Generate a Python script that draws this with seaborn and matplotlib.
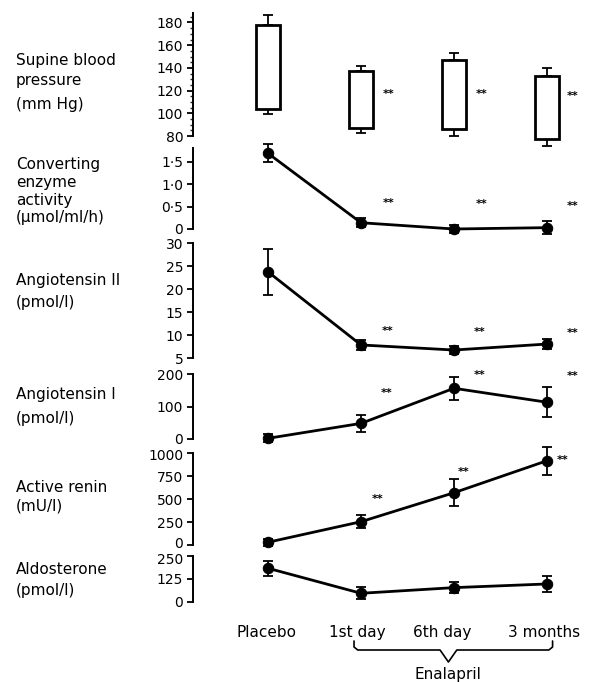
import numpy as np
import pandas as pd
import matplotlib
matplotlib.use("Agg")
import matplotlib.pyplot as plt
import seaborn as sns
from matplotlib.ticker import MultipleLocator, FixedLocator
from matplotlib.transforms import blended_transform_factory, ScaledTranslation

# ---------------- data ----------------
categories = ['Placebo', '1st day', '6th day', '3 months']

bp_systolic = [178, 137, 147, 133]
bp_systolic_err = [9, 5, 6, 7]
bp_diastolic = [104, 87, 86, 77]
bp_diastolic_err = [5, 4, 6, 5.5]

cea = [1.69, 0.14, 0.0, 0.03]
cea_err = [0.20, 0.10, 0.09, 0.15]

ang2 = [23.8, 7.9, 6.8, 8.1]
ang2_err = [5.0, 1.0, 0.9, 1.0]

ang1 = [3, 49, 157, 114]
ang1_err = [12, 27, 36, 46]

renin = [30, 254, 570, 919]
renin_err = [40, 72, 145, 155]

aldo = [183, 46, 77, 97]
aldo_err = [40, 33, 30, 43]

# significance marks (x, y) in data units per panel
sig_bp = [(1.30, 117), (2.30, 117), (3.28, 115)]
sig_cea = [(1.30, 0.57), (2.30, 0.55), (3.28, 0.51)]
sig_ang2 = [(1.29, 11.0), (2.28, 10.7), (3.28, 10.5)]
sig_ang1 = [(1.28, 141), (2.28, 198), (3.28, 196)]
sig_renin = [(1.18, 498), (2.10, 792), (3.17, 927)]

# ---------------- style ----------------
sns.set_theme(style='white')
plt.rcParams['font.family'] = ['DejaVu Sans']
plt.rcParams['axes.linewidth'] = 1.4

W, H = 592, 682
fig = plt.figure(figsize=(W / 100, H / 100), dpi=100)

AX_LEFT = 193
XLIM = ((193 - 268) / 93, (592 - 268) / 93)
TICK_FS = 10


def make_axes(ytop, ybot):
    ax = fig.add_axes([AX_LEFT / W, 1 - ybot / H, (W - AX_LEFT) / W, (ybot - ytop) / H])
    ax.set_facecolor('none')
    for s in ['top', 'right', 'bottom']:
        ax.spines[s].set_visible(False)
    ax.spines['left'].set_color('black')
    ax.set_xlim(*XLIM)
    ax.set_xticks([])
    ax.tick_params(axis='y', direction='out', length=4, width=1.3, pad=3,
                   labelsize=TICK_FS, colors='black', left=True)
    ax.set_xlabel('')
    ax.set_ylabel('')
    return ax


xpos = np.arange(len(categories))


def draw_series(ax, vals, errs):
    df = pd.DataFrame({'x': xpos, 'y': vals})
    sns.lineplot(data=df, x='x', y='y', ax=ax, color='black', linewidth=2.0,
                 marker='o', markersize=7.5, markeredgecolor='black', legend=False)
    eb = ax.errorbar(xpos, vals, yerr=errs, fmt='none', ecolor='black',
                     elinewidth=1.3, capsize=3.6, capthick=1.3)
    for art in eb.get_children():
        art.set_clip_on(False)
    for ln in ax.lines:
        ln.set_clip_on(False)
    ax.set_xlabel('')
    ax.set_ylabel('')
    ax.set_xlim(*XLIM)


def draw_sig(ax, marks):
    for (x, y) in marks:
        ax.text(x, y, '**', ha='center', va='center', fontsize=8,
                fontweight='bold', color='black')


def nudge(label, dx_px, dy_px):
    label.set_transform(label.get_transform() +
                        ScaledTranslation(dx_px / 100, dy_px / 100, fig.dpi_scale_trans))


# Panel 1: supine blood pressure
ax1 = make_axes(13.4, 136)
ax1.set_ylim(80, 188)
bars = ax1.bar(xpos, np.array(bp_systolic) - np.array(bp_diastolic), bottom=bp_diastolic,
               width=0.25, facecolor='white', edgecolor='black', linewidth=2.0, zorder=2)
for b in bars:
    b.set_clip_on(False)
for vals, lo, hi in [(bp_systolic, [0] * 4, bp_systolic_err),
                     (bp_diastolic, bp_diastolic_err, [0] * 4)]:
    eb = ax1.errorbar(xpos, vals, yerr=[lo, hi], fmt='none', ecolor='black',
                      elinewidth=1.3, capsize=3.6, capthick=1.3, zorder=1)
    for art in eb.get_children():
        art.set_clip_on(False)
ax1.yaxis.set_major_locator(FixedLocator([80, 100, 120, 140, 160, 180]))
ax1.yaxis.set_minor_locator(MultipleLocator(5))
ax1.tick_params(axis='y', which='minor', direction='out', length=2.5, width=1.0, left=True)
draw_sig(ax1, sig_bp)

# Panel 2: converting enzyme activity
ax2 = make_axes(148.4, 229)
draw_series(ax2, cea, cea_err)
ax2.set_ylim(0, 1.8)
ax2.set_yticks([0, 0.5, 1.0, 1.5])
ax2.set_yticklabels(['0', '0·5', '1·0', '1·5'])
draw_sig(ax2, sig_cea)

# Panel 3: angiotensin II
ax3 = make_axes(243.3, 358.3)
draw_series(ax3, ang2, ang2_err)
ax3.set_ylim(5, 30)
ax3.set_yticks([5, 10, 15, 20, 25, 30])
draw_sig(ax3, sig_ang2)

# Panel 4: angiotensin I
ax4 = make_axes(374.3, 439.3)
draw_series(ax4, ang1, ang1_err)
ax4.set_ylim(0, 200)
ax4.set_yticks([0, 100, 200])
draw_sig(ax4, sig_ang1)

# Panel 5: active renin
ax5 = make_axes(453.3, 545)
draw_series(ax5, renin, renin_err)
ax5.set_ylim(0, 1000)
ax5.set_yticks([0, 250, 500, 750, 1000])
draw_sig(ax5, sig_renin)

# Panel 6: aldosterone
ax6 = make_axes(556, 601.7)
draw_series(ax6, aldo, aldo_err)
ax6.set_ylim(0, 250)
ax6.set_yticks([0, 125, 250])

# keep adjacent tick labels between stacked panels apart
fig.canvas.draw()
nudge(ax5.get_yticklabels()[0], 0, 3)
nudge(ax6.get_yticklabels()[-1], 0, -2)
nudge(ax4.get_yticklabels()[0], 0, 1)
nudge(ax5.get_yticklabels()[-1], 0, -1)

# x category labels
ax6.set_xticks(xpos)
ax6.set_xticklabels(categories, fontsize=11)
ax6.tick_params(axis='x', length=0, pad=17, colors='black', bottom=False)
for lab, dx in zip(ax6.get_xticklabels(), [-2, -4, -12, -3]):
    nudge(lab, dx, 0)

# panel labels (left column)
label_lines = [
    [('Supine blood', 60), ('pressure', 80), ('(mm Hg)', 105)],
    [('Converting', 165), ('enzyme', 182.5), ('activity', 200), ('(μmol/ml/h)', 218)],
    [('Angiotensin II', 280), ('(pmol/l)', 302)],
    [('Angiotensin I', 395), ('(pmol/l)', 418)],
    [('Active renin', 487), ('(mU/l)', 506)],
    [('Aldosterone', 570), ('(pmol/l)', 590)],
]
for group in label_lines:
    for txt, ypx in group:
        fig.text(16 / W, 1 - ypx / H, txt, ha='left', va='center', fontsize=11, color='black')

# Enalapril brace
tr = blended_transform_factory(ax6.transData, fig.transFigure)
fy = lambda p: 1 - p / H
xl, xr, xm = 0.925, 3.06, 1.94
bx = [xl, xl, xl + 0.04, xm - 0.09, xm, xm + 0.09, xr - 0.04, xr, xr]
by = [fy(641), fy(647), fy(650), fy(650), fy(662), fy(650), fy(650), fy(647), fy(641)]
fig.add_artist(plt.Line2D(bx, by, transform=tr, color='black', linewidth=1.2))
fig.text(448 / W, fy(675), 'Enalapril', ha='center', va='center', fontsize=11, color='black')

fig.savefig('out.png', dpi=100, facecolor='white')
